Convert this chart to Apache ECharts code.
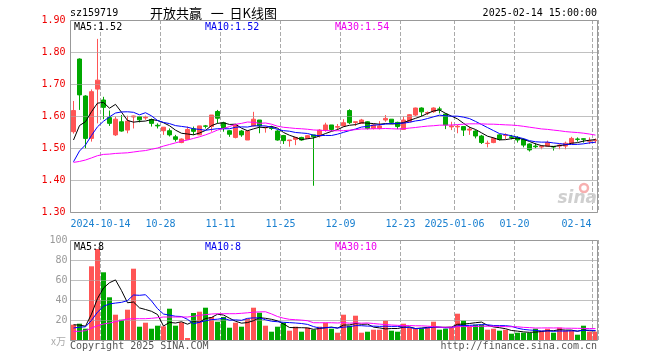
<!DOCTYPE html>
<html><head><meta charset="utf-8">
<script src="https://cdn.jsdelivr.net/npm/echarts@6/dist/echarts.min.js"></script>
<style>html,body{margin:0;padding:0;background:#fff}#c{width:660px;height:360px}</style>
</head><body><div id="c"></div>
<script>
const dates = ['2024-09-30','2024-10-08','2024-10-09','2024-10-10','2024-10-11',
'2024-10-14','2024-10-15','2024-10-16','2024-10-17','2024-10-18',
'2024-10-21','2024-10-22','2024-10-23','2024-10-24','2024-10-25',
'2024-10-28','2024-10-29','2024-10-30','2024-10-31','2024-11-01',
'2024-11-04','2024-11-05','2024-11-06','2024-11-07','2024-11-08',
'2024-11-11','2024-11-12','2024-11-13','2024-11-14','2024-11-15',
'2024-11-18','2024-11-19','2024-11-20','2024-11-21','2024-11-22',
'2024-11-25','2024-11-26','2024-11-27','2024-11-28','2024-11-29',
'2024-12-02','2024-12-03','2024-12-04','2024-12-05','2024-12-06',
'2024-12-09','2024-12-10','2024-12-11','2024-12-12','2024-12-13',
'2024-12-16','2024-12-17','2024-12-18','2024-12-19','2024-12-20',
'2024-12-23','2024-12-24','2024-12-25','2024-12-26','2024-12-27',
'2024-12-30','2024-12-31','2025-01-02','2025-01-03',
'2025-01-06','2025-01-07','2025-01-08','2025-01-09','2025-01-10',
'2025-01-13','2025-01-14','2025-01-15','2025-01-16','2025-01-17',
'2025-01-20','2025-01-21','2025-01-22','2025-01-23','2025-01-24',
'2025-01-27','2025-02-05','2025-02-06','2025-02-07',
'2025-02-10','2025-02-11','2025-02-12','2025-02-13','2025-02-14'];

const opens = [1.551,1.778,1.6625,1.530,1.684,1.650,1.595,1.541,1.582,1.556,
1.597,1.598,1.594,1.589,1.571,1.554,1.554,1.535,1.517,1.527,
1.560,1.541,1.569,1.567,1.614,1.579,1.554,1.533,1.553,1.525,
1.569,1.5875,1.563,1.563,1.553,1.539,1.523,1.527,1.533,1.530,
1.541,1.5375,1.556,1.572,1.565,1.569,1.617,1.580,1.577,1.582,
1.561,1.561,1.5875,1.590,1.580,1.558,1.582,1.603,1.625,1.609,
1.6135,1.622,1.606,1.566,1.566,1.567,1.556,1.553,1.5375,1.514,
1.517,1.541,1.539,1.535,1.533,1.527,1.5125,1.506,1.503,1.506,
1.505,1.506,1.506,1.515,1.528,1.529,1.521,1.523];

const closes = [1.617,1.666,1.530,1.676,1.712,1.627,1.577,1.590,1.553,1.584,
1.600,1.588,1.596,1.577,1.569,1.565,1.541,1.527,1.528,1.558,
1.552,1.569,1.568,1.603,1.593,1.561,1.543,1.572,1.541,1.553,
1.590,1.569,1.565,1.561,1.525,1.523,1.525,1.533,1.525,1.5385,
1.535,1.556,1.572,1.558,1.567,1.579,1.579,1.582,1.5875,1.561,
1.572,1.569,1.5925,1.580,1.567,1.5875,1.604,1.625,1.613,1.611,
1.625,1.621,1.572,1.569,1.568,1.556,1.559,1.5375,1.517,1.515,
1.530,1.527,1.541,1.533,1.525,1.509,1.494,1.504,1.505,1.517,
1.503,1.509,1.515,1.530,1.527,1.527,1.523,1.525];

const lows = [1.545,1.619,1.499,1.520,1.577,1.590,1.569,1.5375,1.551,1.546,
1.561,1.580,1.588,1.567,1.561,1.541,1.536,1.520,1.515,1.527,
1.541,1.541,1.561,1.551,1.577,1.551,1.535,1.530,1.535,1.525,
1.567,1.546,1.548,1.556,1.523,1.5125,1.504,1.509,1.523,1.530,
1.382,1.533,1.551,1.553,1.556,1.567,1.575,1.569,1.575,1.558,
1.558,1.558,1.582,1.575,1.559,1.558,1.582,1.600,1.600,1.603,
1.610,1.608,1.559,1.556,1.546,1.5375,1.541,1.530,1.5125,1.502,
1.515,1.524,1.528,1.527,1.517,1.502,1.489,1.499,1.496,1.504,
1.492,1.496,1.496,1.5125,1.520,1.517,1.5125,1.515];

const highs = [1.647,1.780,1.665,1.683,1.841,1.660,1.617,1.598,1.603,1.601,
1.601,1.600,1.601,1.592,1.577,1.565,1.561,1.541,1.530,1.567,
1.567,1.569,1.572,1.603,1.619,1.582,1.556,1.572,1.556,1.556,
1.613,1.5875,1.567,1.569,1.556,1.541,1.525,1.533,1.535,1.541,
1.541,1.559,1.579,1.572,1.575,1.590,1.621,1.582,1.591,1.584,
1.575,1.584,1.603,1.590,1.582,1.598,1.606,1.626,1.627,1.614,
1.627,1.629,1.608,1.582,1.572,1.567,1.567,1.556,1.541,1.523,
1.533,1.543,1.546,1.541,1.537,1.530,1.5145,1.515,1.509,1.523,
1.506,1.512,1.520,1.535,1.533,1.530,1.533,1.530];

const volumes = [15.3,16.3,11.3,73.7,91,67.7,42.7,25.3,20.3,30.3,
71.3,13.3,17.3,11.3,14.3,13.7,31.3,14.3,17.7,2,
27,28.3,32.3,23,18.3,23,12.3,17.3,13.3,21.3,
32.3,27.3,14.3,8.3,13.3,17.3,9.3,13.3,8.3,12.3,
10.3,13.3,17.3,11.3,7.3,25.3,14.3,24.3,7.3,8.3,
10.3,10.3,19.3,9.3,8.3,16.3,12.3,11.3,11.3,12.3,
18.3,10.3,11.3,12.3,26.3,19.3,13.3,15.3,15.3,10.3,
11.3,9.3,10.3,6.3,7.3,7.3,7.3,11.3,9.3,11.3,
7.3,12.3,9.3,9.3,5.3,14.3,8.3,8.3];

// closes / volumes before the visible window (estimated from MA start values)
const prevCloses = [1.33,1.34,1.38,1.44,1.455,1.44,1.47,1.52,1.578];
const prevVolumes = [8,8,9,9,9.7,18,17,13,13];
// MA30 values read for the first 29 days (needs history before the window)
const priceMa30Early = [1.455,1.458,1.4625,1.469,1.476,1.480,1.481,1.483,1.484,1.485,
1.4875,1.490,1.492,1.496,1.500,1.506,1.511,1.516,1.521,1.525,
1.530,1.535,1.541,1.548,1.556,1.561,1.567,1.574,1.577];
const volMa30Early = [8.7,8.7,9.3,12,14.3,16,17,18.3,19.7,21,21.3,21.3,21.3,21.7,22.3,
23,23,23,23,23,23.7,24.7,25.3,26,26.3,26.3,26.3,26.3,26.7];

const tickDates = ['2024-10-14','2024-10-28','2024-11-11','2024-11-25','2024-12-09','2024-12-23','2025-01-06','2025-01-20','2025-02-14'];
const tickLabels = ['2024-10-14','10-28','11-11','11-25','12-09','12-23','2025-01-06','01-20','02-14'];
const priceTicks = [1.3,1.4,1.5,1.6,1.7,1.8,1.9];
const volTicks = [0,20,40,60,80,100];
const priceLegend = ['MA5:1.52','MA10:1.52','MA30:1.54'];
const volLegend = ['MA5:8','MA10:8','MA30:10'];

function ma(n, vals, prev) {
  const all = prev.concat(vals);
  return vals.map((_, i) => {
    const j = i + prev.length;
    if (j - n + 1 < 0) return null;
    let s = 0;
    for (let k = j - n + 1; k <= j; k++) s += all[k];
    return +(s / n).toFixed(4);
  });
}
function ma30(vals, early) {
  return vals.map((_, i) => {
    if (i < early.length) return early[i];
    let s = 0;
    for (let k = i - 29; k <= i; k++) s += vals[k];
    return +(s / 30).toFixed(4);
  });
}

const RED = '#ff5555', GREEN = '#00a800';
const MONO = '"DejaVu Sans Mono", monospace';
const kData = opens.map((o, i) => [o, closes[i], lows[i], highs[i]]);
const volData = volumes.map((v, i) => ({ value: v, itemStyle: { color: closes[i] >= opens[i] ? RED : GREEN } }));

const tickIdx = tickDates.map(d => dates.indexOf(d));
const isTickLabel = (idx, val) => tickDates.indexOf(val) >= 0;
const isTickIdx = (idx) => tickIdx.indexOf(idx) >= 0;
const lineS = (c) => ({ type: 'line', symbol: 'none', showSymbol: false, smooth: false, lineStyle: { color: c, width: 1 }, z: 5, silent: true });
const hMarks = (vals) => ({
  silent: true, symbol: ['none', 'none'], label: { show: false }, animation: false,
  emphasis: { disabled: true },
  lineStyle: { color: '#aaa', width: 1, type: 'dotted', opacity: 1 },
  data: vals.slice(1, -1).map(v => ({ yAxis: v }))
});
const vSplit = { show: true, interval: isTickIdx, lineStyle: { color: '#aaa', width: 1, type: 'dashed' } };
const hSplit = { show: true, lineStyle: { color: '#aaa', width: 1, type: 'dotted' } };

const chart = echarts.init(document.getElementById('c'), null, { renderer: 'canvas' });
const txt = (x, y, t, fill, opt) => Object.assign({ type: 'text', silent: true, z: 100, style: Object.assign({ x, y, text: t, fill, font: '10px ' + MONO, verticalAlign: 'middle', align: 'left' }, opt || {}) });

const GL = 70.5, GW = 528;
chart.setOption({
  animation: false,
  backgroundColor: '#fff',
  grid: [
    { left: GL, width: GW, top: 20, height: 192, show: false },
    { left: GL, width: GW, top: 240, height: 100, show: false }
  ],
  xAxis: [
    { type: 'category', gridIndex: 0, data: dates, boundaryGap: true,
      axisLine: { show: false }, axisTick: { show: false }, splitLine: vSplit,
      axisLabel: { interval: isTickLabel, margin: 7, color: '#1a80d0', fontFamily: MONO, fontSize: 10,
        formatter: (v) => { const k = tickDates.indexOf(v); return k === tickDates.length - 1 ? '{e|' + tickLabels[k] + '}' : '{a|' + tickLabels[k] + '}'; },
        rich: { a: { padding: [0, 6, 0, 0], color: '#1a80d0', fontFamily: MONO, fontSize: 10 },
                e: { padding: [0, 38, 0, 0], color: '#1a80d0', fontFamily: MONO, fontSize: 10 } } } },
    { type: 'category', gridIndex: 1, data: dates, boundaryGap: true,
      axisLine: { show: false }, axisTick: { show: false }, axisLabel: { show: false }, splitLine: vSplit }
  ],
  yAxis: [
    { type: 'value', gridIndex: 0, min: priceTicks[0], max: priceTicks[priceTicks.length - 1], interval: 0.1,
      axisLine: { show: false }, axisTick: { show: false }, splitLine: hSplit,
      axisLabel: { color: '#ee0000', fontFamily: MONO, fontSize: 10, margin: 5, formatter: (v) => v.toFixed(2) } },
    { type: 'value', gridIndex: 1, min: volTicks[0], max: volTicks[volTicks.length - 1], interval: 20,
      axisLine: { show: false }, axisTick: { show: false }, splitLine: hSplit,
      axisLabel: { color: '#999', fontFamily: MONO, fontSize: 10, margin: 3, formatter: (v) => v === 0 ? '' : String(v) } }
  ],
  series: [
    { type: 'candlestick', xAxisIndex: 0, yAxisIndex: 0, data: kData, barWidth: 5, z: 3,
      itemStyle: { color: RED, color0: GREEN, borderColor: RED, borderColor0: GREEN, borderWidth: 1 }, silent: true },
    Object.assign(lineS('#000000'), { xAxisIndex: 0, yAxisIndex: 0, data: ma(5, closes, prevCloses) }),
    Object.assign(lineS('#0000ff'), { xAxisIndex: 0, yAxisIndex: 0, data: ma(10, closes, prevCloses) }),
    Object.assign(lineS('#ff00ff'), { xAxisIndex: 0, yAxisIndex: 0, data: ma30(closes, priceMa30Early), markLine: hMarks(priceTicks) }),
    { type: 'bar', xAxisIndex: 1, yAxisIndex: 1, data: volData, barWidth: 5, z: 3, silent: true },
    Object.assign(lineS('#000000'), { xAxisIndex: 1, yAxisIndex: 1, data: ma(5, volumes, prevVolumes) }),
    Object.assign(lineS('#0000ff'), { xAxisIndex: 1, yAxisIndex: 1, data: ma(10, volumes, prevVolumes) }),
    Object.assign(lineS('#ff00ff'), { xAxisIndex: 1, yAxisIndex: 1, data: ma30(volumes, volMa30Early), markLine: hMarks(volTicks) })
  ],
  graphic: [
    { type: 'rect', silent: true, z: 50, shape: { x: 70.5, y: 20.5, width: 527, height: 192 }, style: { fill: 'none', stroke: '#999', lineWidth: 1 } },
    { type: 'rect', silent: true, z: 50, shape: { x: 70.5, y: 240.5, width: 527, height: 100 }, style: { fill: 'none', stroke: '#999', lineWidth: 1 } },
    txt(70, 13, 'sz159719', '#000'),
    txt(150, 13, '开放共赢   一  日K线图', '#000', { font: '13px "Noto Sans CJK SC"' }),
    txt(597, 13, '2025-02-14 15:00:00', '#000', { align: 'right' }),
    txt(74, 27, priceLegend[0], '#000'),
    txt(205, 27, priceLegend[1], '#0000ee'),
    txt(335, 27, priceLegend[2], '#ee00ee'),
    txt(74, 247, volLegend[0], '#000'),
    txt(205, 247, volLegend[1], '#0000ee'),
    txt(335, 247, volLegend[2], '#ee00ee'),
    txt(70, 346, 'Copyright 2025 SINA.COM', '#555'),
    txt(597, 346, 'http://finance.sina.com.cn', '#555', { align: 'right' }),
    txt(66, 341, 'x万', '#aaa', { align: 'right', font: '10px "Noto Sans CJK SC"' }),
    { type: 'circle', silent: true, z: 1, shape: { cx: 584, cy: 188, r: 4 }, style: { fill: 'none', stroke: '#f7b0b0', lineWidth: 2.5 } },
    txt(597, 199, 'sina', '#cfcfcf', { align: 'right', font: 'italic bold 17px "DejaVu Sans"' })
  ]
});
</script></body></html>
